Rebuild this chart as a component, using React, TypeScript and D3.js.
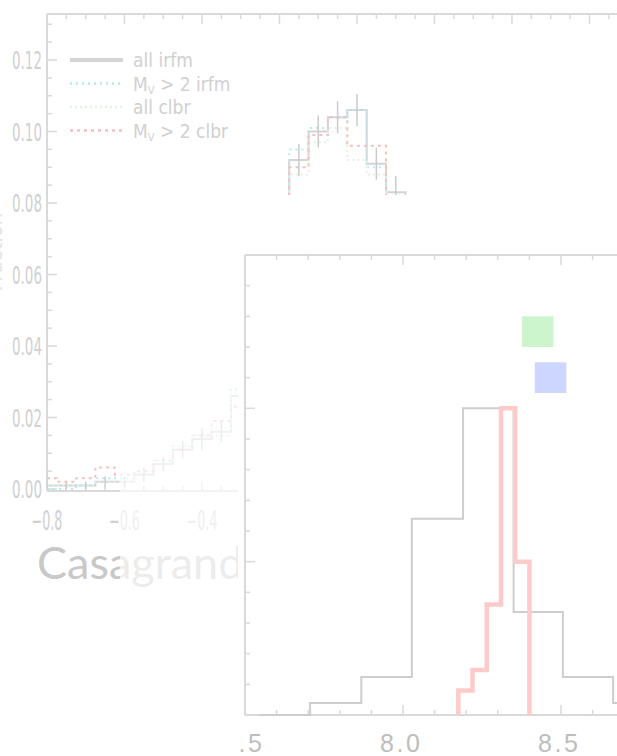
import React from "react";
import * as d3 from "d3";

const W = 617;
const H = 756;

// ---- background distribution: bins of width 0.05 centred on these values ----
const binCenters = [
  -0.8, -0.75, -0.7, -0.65, -0.6, -0.55, -0.5, -0.45, -0.4, -0.35, -0.3, -0.25,
  -0.2, -0.15, -0.1, -0.05, 0.0, 0.05, 0.1, 0.15, 0.2, 0.25, 0.3, 0.35,
];
const allIrfm = [
  0.001, 0.001, 0.001, 0.002, 0.002, 0.004, 0.007, 0.011, 0.014, 0.016, 0.026, 0.036,
  0.062, 0.092, 0.1, 0.104, 0.106, 0.091, 0.083, 0.062, 0.04, 0.022, 0.01, 0.004,
];
const allIrfmErr = [
  0.001, 0.001, 0.001, 0.0015, 0.0015, 0.002, 0.002, 0.0025, 0.003, 0.003, 0.0035, 0.004,
  0.0045, 0.0045, 0.0045, 0.0045, 0.0045, 0.0045, 0.0045, 0.004, 0.0035, 0.003, 0.002, 0.0015,
];
const mvIrfm = [
  0.0, 0.0, 0.001, 0.003, 0.003, 0.004, 0.007, 0.012, 0.015, 0.015, 0.028, 0.033,
  0.06, 0.095, 0.101, 0.104, 0.106, 0.09, 0.082, 0.06, 0.041, 0.021, 0.01, 0.004,
];
const allClbr = [
  0.001, 0.001, 0.001, 0.002, 0.002, 0.005, 0.008, 0.012, 0.015, 0.017, 0.027, 0.035,
  0.058, 0.088, 0.097, 0.101, 0.092, 0.088, 0.08, 0.063, 0.043, 0.024, 0.011, 0.004,
];
const mvClbr = [
  0.003, 0.002, 0.003, 0.006, 0.004, 0.005, 0.008, 0.011, 0.015, 0.019, 0.023, 0.043,
  0.066, 0.09, 0.099, 0.104, 0.096, 0.096, 0.081, 0.061, 0.04, 0.02, 0.009, 0.003,
];
const bgYTicks = [0, 0.02, 0.04, 0.06, 0.08, 0.1, 0.12];
const bgXTicks = [-0.8, -0.6, -0.4];
const legendLabels = ["all irfm", "M_V > 2 irfm", "all clbr", "M_V > 2 clbr"];
const bgColors = ["#d4d4d4", "#b4e9f6", "#e0f4e4", "#f6c0c0"];

// ---- inset histograms ----
const insetEdges = [7.545, 7.706, 7.868, 8.028, 8.19, 8.35, 8.506, 8.665, 8.825];
const insetCounts = [0, 0.39, 1.24, 6.4, 10.0, 3.36, 1.24, 0.39];
const clbrEdges = [8.175, 8.22, 8.265, 8.31, 8.355, 8.4];
const clbrCounts = [0.8, 1.47, 3.6, 10.0, 5.0];
const markerX = [8.426, 8.467];
const markerY = [12.5, 11.0];
const markerColors = ["#cdf5cd", "#cdd6ff"];
const insetXTicks = [7.5, 8.0, 8.5];

const narrow = "'DejaVu Sans Condensed', 'Liberation Sans Narrow', sans-serif";

function stepPoints(edges: number[], vals: number[], closeToZero: boolean): [number, number][] {
  const pts: [number, number][] = [];
  if (closeToZero) pts.push([edges[0], 0]);
  edges.forEach((e, i) => pts.push([e, i < vals.length ? vals[i] : vals[vals.length - 1]]));
  if (closeToZero) pts.push([edges[edges.length - 1], 0]);
  return pts;
}

export default function App() {
  // background plot scales
  const bx = d3.scaleLinear().domain([-0.8, 0.671]).range([47, 617]);
  const by = d3.scaleLinear().domain([0, 0.12]).range([489, 60]);
  const bTop = 14;
  const bBottom = 491;

  const bgEdges = binCenters.map((c, i) => (i === 0 ? -0.8 : c - 0.025)).concat([
    binCenters[binCenters.length - 1] + 0.025,
  ]);
  const bgLine = d3
    .line<[number, number]>()
    .x((d) => bx(d[0]))
    .y((d) => by(d[1]))
    .curve(d3.curveStepAfter);
  const series = [allIrfm, mvIrfm, allClbr, mvClbr];
  const dashes = [undefined, "2,4", "2,3", "3,4"];

  const bgYMinor = d3.range(0, 0.1301, 0.005);
  const bgXMinor = d3.range(-0.8, 0.67, 0.05);

  // inset scales
  const fx = d3.scaleLinear().domain([7.5, 7.5 + (617 - 245) / 316]).range([245, 617]);
  const fy = d3.scaleLinear().domain([0, 15]).range([715, 255]);
  const fLine = d3
    .line<[number, number]>()
    .x((d) => fx(d[0]))
    .y((d) => fy(d[1]))
    .curve(d3.curveStepAfter);
  const fXMinor = d3.range(7.5, 8.7, 0.1);
  const fYMinor = d3.range(0, 15.01, 1);

  const axisCol = "#d9d9d9";
  const labelCol = "#d0d0d0";

  return (
    <svg width={W} height={H} style={{ display: "block", position: "absolute", left: 0, top: 0 }}>
      <defs>
        <clipPath id="bgPlot">
          <rect x={47} y={bTop} width={W - 47} height={bBottom - bTop} />
        </clipPath>
        <clipPath id="panel">
          <rect x={238} y={195} width={W - 238} height={H - 195} />
        </clipPath>
      </defs>
      <rect x={0} y={0} width={W} height={H} fill="#ffffff" />

      {/* background distribution plot */}
      <g>
        <line x1={47} x2={W} y1={bTop} y2={bTop} stroke={axisCol} strokeWidth={2} />
        <line x1={47} x2={W} y1={bBottom} y2={bBottom} stroke={axisCol} strokeWidth={2} />
        <line x1={47} x2={47} y1={bTop} y2={bBottom} stroke={axisCol} strokeWidth={2} />
        {bgYMinor.map((v, i) => {
          const major = Math.abs(v / 0.02 - Math.round(v / 0.02)) < 1e-6;
          return (
            <line key={"by" + i} x1={47} x2={47 + (major ? 10 : 5)} y1={by(v)} y2={by(v)} stroke={axisCol} strokeWidth={1.5} />
          );
        })}
        {bgXMinor.map((v, i) => {
          const major = Math.abs(v / 0.2 - Math.round(v / 0.2)) < 1e-6;
          const len = major ? 10 : 5;
          return (
            <g key={"bx" + i}>
              <line x1={bx(v)} x2={bx(v)} y1={bTop} y2={bTop + len} stroke={axisCol} strokeWidth={1.5} />
              <line x1={bx(v)} x2={bx(v)} y1={bBottom} y2={bBottom - len} stroke={axisCol} strokeWidth={1.5} />
            </g>
          );
        })}
        {bgYTicks.map((v) => (
          <text key={"byl" + v} x={42} y={by(v) + 9} textAnchor="end" fontFamily={narrow} fontSize={25} fill={labelCol} textLength={30} lengthAdjust="spacingAndGlyphs">
            {v.toFixed(2)}
          </text>
        ))}
        {bgXTicks.map((v) => (
          <text key={"bxl" + v} x={bx(v)} y={530} textAnchor="middle" fontFamily={narrow} fontSize={26} fill={labelCol} textLength={31} lengthAdjust="spacingAndGlyphs">
            {"\u2212" + Math.abs(v).toFixed(1)}
          </text>
        ))}
        <text transform="translate(2,252) rotate(-90)" textAnchor="middle" fontFamily={narrow} fontSize={22} fill="#e4e4e4">
          Fraction
        </text>

        <g clipPath="url(#bgPlot)">
          {series.map((s, k) => (
            <path
              key={"s" + k}
              d={bgLine(stepPoints(bgEdges, s, false)) || ""}
              fill="none"
              stroke={bgColors[k]}
              strokeWidth={2}
              strokeDasharray={dashes[k]}
            />
          ))}
          {binCenters.map((c, i) => (
            <line
              key={"e" + i}
              x1={bx(c)}
              x2={bx(c)}
              y1={by(allIrfm[i] - allIrfmErr[i])}
              y2={by(allIrfm[i] + allIrfmErr[i])}
              stroke="#cbcbcb"
              strokeWidth={1.5}
            />
          ))}
        </g>

        {/* legend */}
        {legendLabels.map((lab, k) => {
          const y = 60 + k * 23.5;
          const parts = lab.split("M_V");
          return (
            <g key={"lg" + k}>
              <line x1={70} x2={123} y1={y} y2={y} stroke={bgColors[k]} strokeWidth={k === 0 ? 4 : 2.5} strokeDasharray={dashes[k]} />
              <text x={133} y={y + 7} fontFamily={narrow} fontSize={19} fill={labelCol}>
                {parts.length > 1 ? (
                  <>
                    <tspan>M</tspan>
                    <tspan fontSize={11} dy={3}>V</tspan>
                    <tspan dy={-3}>{parts[1]}</tspan>
                  </>
                ) : (
                  lab
                )}
              </text>
            </g>
          );
        })}
      </g>

      <text x={37} y={579} fontFamily="Lato, 'Open Sans', sans-serif" fontSize={45} fill="#c8c8c8">
        Casagrande
      </text>
      <rect x={120} y={300} width={118} height={H - 300} fill="#ffffff" opacity={0.65} />

      {/* inset panel */}
      <rect x={238} y={195} width={W - 238} height={H - 195} fill="#ffffff" />
      <g clipPath="url(#panel)">
        <line x1={245} x2={W} y1={255} y2={255} stroke={axisCol} strokeWidth={2} />
        <line x1={245} x2={W} y1={715} y2={715} stroke={axisCol} strokeWidth={2} />
        <line x1={245} x2={245} y1={255} y2={715} stroke={axisCol} strokeWidth={2} />
        {fXMinor.map((v, i) => {
          const major = Math.abs(v / 0.5 - Math.round(v / 0.5)) < 1e-6;
          const len = major ? 10 : 5;
          return (
            <g key={"fx" + i}>
              <line x1={fx(v)} x2={fx(v)} y1={255} y2={255 + len} stroke={axisCol} strokeWidth={1.5} />
              <line x1={fx(v)} x2={fx(v)} y1={715} y2={715 - len} stroke={axisCol} strokeWidth={1.5} />
            </g>
          );
        })}
        {fYMinor.map((v, i) => {
          const major = v % 5 === 0;
          return (
            <line key={"fy" + i} x1={245} x2={245 + (major ? 10 : 5)} y1={fy(v)} y2={fy(v)} stroke={axisCol} strokeWidth={1.5} />
          );
        })}
        {insetXTicks.map((v) => (
          <text key={"fxl" + v} x={fx(v) - 3} y={752} textAnchor="middle" fontFamily="'Liberation Sans', Arial, sans-serif" fontSize={25} fill="#bdbdbd" textLength={40} lengthAdjust="spacing">
            {v.toFixed(1)}
          </text>
        ))}

        {markerX.map((x, i) => (
          <rect
            key={"m" + i}
            x={fx(x - 0.05)}
            y={fy(markerY[i] + 0.5)}
            width={fx(x + 0.05) - fx(x - 0.05)}
            height={fy(markerY[i] - 0.5) - fy(markerY[i] + 0.5)}
            fill={markerColors[i]}
          />
        ))}

        <path d={fLine(stepPoints(insetEdges, insetCounts, true)) || ""} fill="none" stroke="#cdcdcd" strokeWidth={2} />
        <path d={fLine(stepPoints(clbrEdges, clbrCounts, true)) || ""} fill="none" stroke="#ffcaca" strokeWidth={4.5} />
      </g>
    </svg>
  );
}
